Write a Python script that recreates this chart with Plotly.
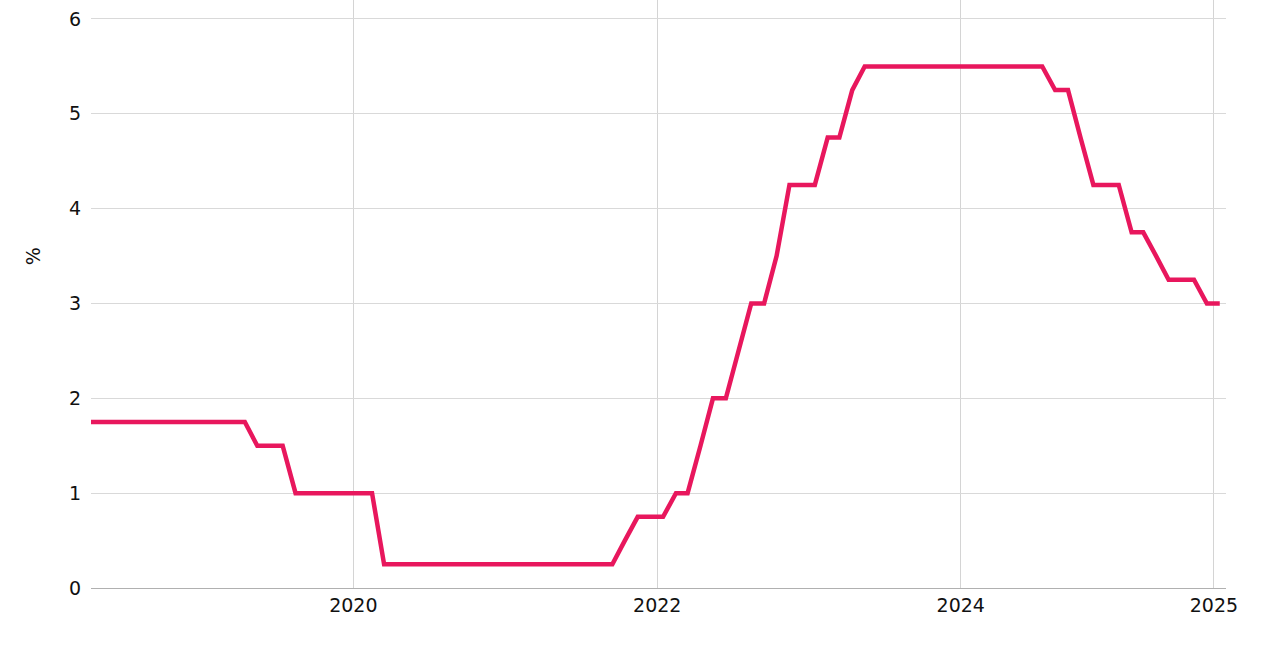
import plotly.graph_objects as go

# Monthly observations (plotted mid-month), policy rate in %
dates = [
    "2018-03-15",
    "2018-04-15", "2018-05-15", "2018-06-15", "2018-07-15", "2018-08-15", "2018-09-15",
    "2018-10-15", "2018-11-15", "2018-12-15",
    "2019-01-15", "2019-02-15", "2019-03-15", "2019-04-15", "2019-05-15", "2019-06-15",
    "2019-07-15", "2019-08-15", "2019-09-15", "2019-10-15", "2019-11-15", "2019-12-15",
    "2020-01-15", "2020-02-15", "2020-03-15", "2020-04-15", "2020-05-15", "2020-06-15",
    "2020-07-15", "2020-08-15", "2020-09-15", "2020-10-15", "2020-11-15", "2020-12-15",
    "2021-01-15", "2021-02-15", "2021-03-15", "2021-04-15", "2021-05-15", "2021-06-15",
    "2021-07-15", "2021-08-15", "2021-09-15", "2021-10-15", "2021-11-15", "2021-12-15",
    "2022-01-15", "2022-02-15", "2022-03-15", "2022-04-15", "2022-05-15", "2022-06-15",
    "2022-07-15", "2022-08-15", "2022-09-15", "2022-10-15", "2022-11-15", "2022-12-15",
    "2023-01-15", "2023-02-15", "2023-03-15", "2023-04-15", "2023-05-15", "2023-06-15",
    "2023-07-15", "2023-08-15", "2023-09-15", "2023-10-15", "2023-11-15", "2023-12-15",
    "2024-01-15", "2024-02-15", "2024-03-15", "2024-04-15", "2024-05-15", "2024-06-15",
    "2024-07-15", "2024-08-15", "2024-09-15", "2024-10-15", "2024-11-15", "2024-12-15",
    "2025-01-15", "2025-02-15", "2025-03-15", "2025-04-15", "2025-05-15", "2025-06-15",
    "2025-07-15", "2025-08-15", "2025-09-15",
]

rate = [
    1.75,
    1.75, 1.75, 1.75, 1.75, 1.75, 1.75, 1.75, 1.75, 1.75,
    1.75, 1.75, 1.75, 1.75, 1.5, 1.5, 1.5, 1.0, 1.0, 1.0, 1.0, 1.0,
    1.0, 1.0, 0.25, 0.25, 0.25, 0.25, 0.25, 0.25, 0.25, 0.25, 0.25, 0.25,
    0.25, 0.25, 0.25, 0.25, 0.25, 0.25, 0.25, 0.25, 0.25, 0.5, 0.75, 0.75,
    0.75, 1.0, 1.0, 1.5, 2.0, 2.0, 2.5, 3.0, 3.0, 3.5, 4.25, 4.25,
    4.25, 4.75, 4.75, 5.25, 5.5, 5.5, 5.5, 5.5, 5.5, 5.5, 5.5, 5.5,
    5.5, 5.5, 5.5, 5.5, 5.5, 5.5, 5.5, 5.25, 5.25, 4.75, 4.25, 4.25,
    4.25, 3.75, 3.75, 3.5, 3.25, 3.25, 3.25, 3.0, 3.0,
]

x_tick_vals = ["2020-01-01", "2022-01-01", "2024-01-01", "2025-09-01"]
x_tick_text = ["2020", "2022", "2024", "2025"]
y_tick_vals = [0, 1, 2, 3, 4, 5, 6]
y_title = "%"

FONT = "DejaVu Sans"
TXT = "#111111"

fig = go.Figure()
fig.add_trace(go.Scatter(
    x=dates, y=rate, mode="lines",
    line=dict(color="#E8175D", width=4.5),
    hoverinfo="x+y", showlegend=False,
))

fig.update_layout(
    width=1261, height=648,
    margin=dict(l=91, r=35, t=0, b=60),
    paper_bgcolor="white", plot_bgcolor="white",
    font=dict(family=FONT, size=19, color=TXT),
)
fig.update_xaxes(
    type="date",
    range=["2018-04-10", "2025-09-30"],
    tickmode="array", tickvals=x_tick_vals, ticktext=x_tick_text,
    showgrid=True, gridcolor="#d4d4d4", gridwidth=1,
    showline=True, linecolor="#b0b0b0", linewidth=1,
    ticks="", ticklen=0,
    tickfont=dict(family=FONT, size=19, color=TXT),
    zeroline=False,
)
fig.update_yaxes(
    range=[0, 6.2],
    tickmode="array", tickvals=y_tick_vals,
    showgrid=True, gridcolor="#d9d9d9", gridwidth=1,
    showline=False, zeroline=False,
    ticks="outside", ticklen=5, tickcolor="rgba(0,0,0,0)",
    tickfont=dict(family=FONT, size=19, color=TXT),
)
fig.add_annotation(
    text=y_title, xref="paper", yref="paper",
    x=-0.051, y=0.5646, xanchor="center", yanchor="middle",
    textangle=-90, showarrow=False,
    font=dict(family=FONT, size=19, color=TXT),
)

fig.write_html(
    "out.html",
    config={"displayModeBar": False},
    post_script="document.body.style.margin='0';document.body.style.overflow='hidden';",
)
